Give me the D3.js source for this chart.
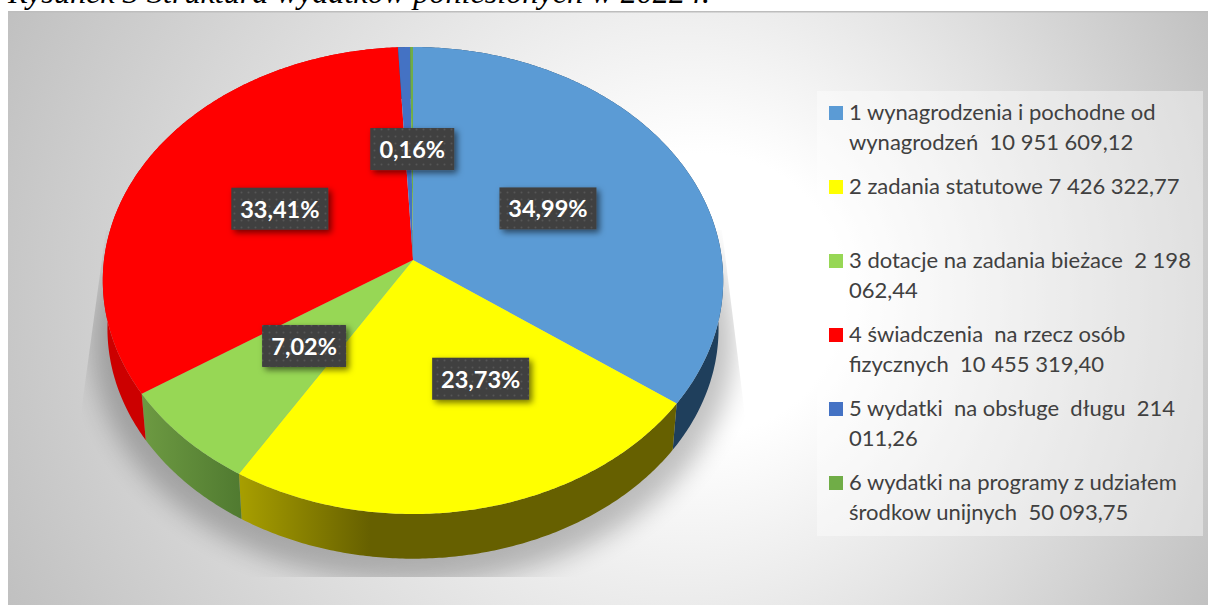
<!DOCTYPE html>
<html>
<head>
<meta charset="utf-8">
<script src="https://cdn.jsdelivr.net/npm/d3@7"></script>
<style>
html, body { margin: 0; padding: 0; background: #fff; overflow: hidden; }
svg { display: block; }
</style>
</head>
<body>
<div id="chart"></div>
<script>
const title = "Rysunek 3 Struktura wydatków poniesionych w 2022 r.";
const categories = [
    ["1 wynagrodzenia i pochodne od", "wynagrodzeń  10 951 609,12"],
    ["2 zadania statutowe 7 426 322,77"],
    ["3 dotacje na zadania bieżace  2 198", "062,44"],
    ["4 świadczenia  na rzecz osób", "fizycznych  10 455 319,40"],
    ["5 wydatki  na obsługe  długu  214", "011,26"],
    ["6 wydatki na programy z udziałem", "środkow unijnych  50 093,75"]
];
const values = [10951609.12, 7426322.77, 2198062.44, 10455319.40, 214011.26, 50093.75];
const percentLabels = ["34,99%", "23,73%", "7,02%", "33,41%", null, "0,16%"];
const colors = ["#5b9bd5", "#ffff00", "#97d755", "#ff0000", "#4472c4", "#70ad47"];

(function() {
    const width = 1208, height = 605;
    const svg = d3.select("#chart").append("svg")
        .attr("width", width)
        .attr("height", height)
        .style("font-family", "Lato, sans-serif");
    const defs = svg.append("defs");

    // pie plane seen in perspective: front edge is closer, so bigger
    const cx = 413, cy = 260, rx = 309, ry = 231.7, persp = 0.0878;
    const lowScale = 0.985, depth = 48.5;
    const project = (a, r, low) => {
        const u = Math.sin(a) * r, v = -Math.cos(a) * r;
        const d = 1 - persp * v;
        const s = low ? lowScale : 1;
        return [cx + s * rx * u / d, cy + (low ? depth : 0) + s * ry * v / d];
    };

    // background
    const bg = defs.append("radialGradient").attr("id", "bg")
        .attr("gradientUnits", "userSpaceOnUse")
        .attr("cx", 607).attr("cy", 308).attr("r", 700)
        .attr("fx", 730).attr("fy", 290);
    bg.append("stop").attr("offset", 0.2).attr("stop-color", "#fff");
    bg.append("stop").attr("offset", 1).attr("stop-color", "#bdbdbd");

    svg.append("text")
        .attr("x", 8).attr("y", 3)
        .style("font-family", "'Liberation Serif', serif")
        .style("font-style", "italic")
        .style("font-size", "32.2px")
        .text(title);

    svg.append("rect").attr("x", 8).attr("y", 11)
        .attr("width", width - 8).attr("height", height - 11)
        .attr("fill", "url(#bg)");
    svg.append("rect").attr("x", 8).attr("y", 11)
        .attr("width", width - 8).attr("height", 1.5)
        .attr("fill", "#bdbdbd");

    // soft shadow under the pie, cut off by a trapezoid
    defs.append("filter").attr("id", "soft")
        .attr("x", "-20%").attr("y", "-20%").attr("width", "140%").attr("height", "140%")
        .append("feGaussianBlur").attr("stdDeviation", 12);
    defs.append("clipPath").attr("id", "shadowClip")
        .append("polygon").attr("points", "106,230 80,420 82,577 745,577 745,415 722,230");
    const ringLine = d3.line();
    const ring = d3.range(0, 2 * Math.PI, 0.02).map(a => project(a, 1, true));
    svg.append("g").attr("clip-path", "url(#shadowClip)")
        .append("path")
        .attr("d", ringLine(ring) + "Z")
        .attr("transform", `translate(${cx},${cy + 60}) scale(1.05) translate(${-cx},${-cy - 48})`)
        .attr("fill", "#000")
        .attr("opacity", 0.24)
        .attr("filter", "url(#soft)");

    // slices
    const pie = d3.pie().sort(null).value(d => d);
    const arcs = pie(values);
    const sample = (d, low) => {
        const n = Math.max(2, Math.ceil((d.endAngle - d.startAngle) / 0.01));
        return d3.range(n + 1).map(i => project(d.startAngle + (d.endAngle - d.startAngle) * i / n, 1, low));
    };

    // side walls get a left-to-right shade
    const sideShade = [
        [[0, "#1f3f5c"], [1, "#1f3f5c"]],
        [[0, "#a89f00"], [0.3, "#666000"], [1, "#666000"]],
        [[0, "#6d9a42"], [1, "#507a30"]],
        [[0, "#cc0000"], [1, "#cc0000"]],
        [[0, "#24406f"], [1, "#24406f"]],
        [[0, "#40642a"], [1, "#40642a"]]
    ];
    arcs.forEach((d, i) => {
        const top = sample(d, false), low = sample(d, true);
        const xs = d3.extent(top.concat(low), p => p[0]);
        const g = defs.append("linearGradient").attr("id", "side" + i)
            .attr("gradientUnits", "userSpaceOnUse")
            .attr("x1", xs[0]).attr("x2", xs[1]).attr("y1", 0).attr("y2", 0);
        sideShade[i].forEach(s => g.append("stop").attr("offset", s[0]).attr("stop-color", s[1]));
        svg.append("path")
            .attr("d", ringLine(top.concat(low.reverse())) + "Z")
            .attr("fill", `url(#side${i})`);
    });

    svg.selectAll(".slice")
        .data(arcs)
        .enter().append("path")
        .attr("class", "slice")
        .attr("d", d => ringLine([[cx, cy]].concat(sample(d, false))) + "Z")
        .attr("fill", (d, i) => colors[i]);

    // data labels: middle of the slice, box drawn around the text
    const dots = defs.append("pattern").attr("id", "dots")
        .attr("patternUnits", "userSpaceOnUse").attr("width", 14).attr("height", 14);
    dots.append("rect").attr("width", 14).attr("height", 14).attr("fill", "#404040");
    [[3.5, 3.5], [10.5, 3.5], [3.5, 10.5], [10.5, 10.5]].forEach(p =>
        dots.append("circle").attr("cx", p[0]).attr("cy", p[1]).attr("r", 1).attr("fill", "#565656"));
    defs.append("filter").attr("id", "boxShadow")
        .attr("x", "-20%").attr("y", "-30%").attr("width", "150%").attr("height", "170%")
        .append("feDropShadow")
        .attr("dx", 3).attr("dy", 3).attr("stdDeviation", 3)
        .attr("flood-color", "#000").attr("flood-opacity", 0.55);

    // the yellow label was dragged sideways in the original
    const labelShift = { 1: 36, 2: 2, 3: 2 };
    arcs.forEach((d, i) => {
        if (!percentLabels[i]) return;
        const p = project((d.startAngle + d.endAngle) / 2, 0.5, false);
        const x = p[0] + (labelShift[i] || 0), y = p[1];
        const w = percentLabels[i].length > 5 ? 97 : 84;
        svg.append("rect")
            .attr("x", x - w / 2).attr("y", y - 21)
            .attr("width", w).attr("height", 42)
            .attr("fill", "url(#dots)")
            .attr("filter", "url(#boxShadow)");
        svg.append("text")
            .attr("x", x).attr("y", y + 9)
            .attr("text-anchor", "middle")
            .attr("fill", "#fff")
            .style("font-weight", 700)
            .style("font-size", "23.5px")
            .text(percentLabels[i]);
    });

    // legend
    svg.append("rect")
        .attr("x", 817).attr("y", 91)
        .attr("width", 386).attr("height", 445)
        .attr("fill", "#fff").attr("opacity", 0.4);

    const rowY = d3.scaleLinear().domain([0, 5]).range([113, 483]);
    const rows = svg.selectAll(".legend-row")
        .data(categories)
        .enter().append("g")
        .attr("class", "legend-row")
        .attr("transform", (d, i) => `translate(829,${rowY(i)})`);
    rows.append("rect")
        .attr("y", -7).attr("width", 14).attr("height", 14)
        .attr("fill", (d, i) => colors[i]);
    rows.selectAll("text")
        .data(d => d)
        .enter().append("text")
        .attr("x", 20)
        .attr("y", (d, i) => 7 + i * 29.7)
        .attr("fill", "#404040")
        .style("font-size", "22px")
        .style("white-space", "pre")
        .text(d => d);
})();
</script>
</body>
</html>
